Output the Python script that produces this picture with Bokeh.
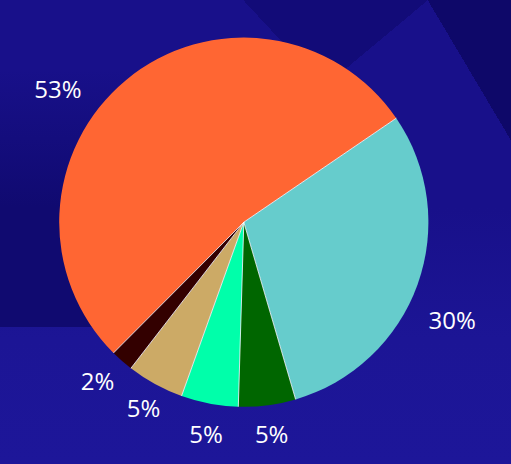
import numpy as np
from bokeh.plotting import figure
from bokeh.models import Range1d, ColumnDataSource
from bokeh.core.properties import value
from bokeh.embed import file_html
from bokeh.resources import INLINE

# ---- data ----
labels = ["53%", "30%", "5%", "5%", "5%", "2%"]
shares = [53, 30, 5, 5, 5, 2]
colors = ["#FF6633", "#66CCCC", "#006600", "#00FFAA", "#CCAA66", "#330000"]

# ---- layout ----
W, H = 511, 464
cx, cy = 243.3, H - 221.7
R = 184.6
start_deg = 225.1
label_nudge_deg = [14.6, -5.3, 0.2, 0.6, 0.3, -1.4]
label_radius = [229, 230, 213.6, 215, 211, 215.6]

frac = np.array(shares, dtype=float) / float(sum(shares))
cum = np.concatenate([[0.0], np.cumsum(frac)])
starts = start_deg - cum[:-1] * 360.0
ends = start_deg - cum[1:] * 360.0
mids = (starts + ends) / 2.0

src = ColumnDataSource(dict(
    start=np.radians(starts), end=np.radians(ends), color=colors,
))

bg = ", ".join([
    "linear-gradient(59.3deg, transparent 89.4%, #0e0869 89.4%)",
    "conic-gradient(from 317.1deg at 324px 87px, #120b78 0deg 93deg, transparent 93deg)",
    "linear-gradient(to bottom, rgba(16,10,112,0) 68px, #100a70 208px, #100a70 327px, transparent 327px) 0 0 / 210px 464px no-repeat",
    "linear-gradient(to bottom, #18108a 0px, #18108a 208px, #1c1595 338px, #1d1699 464px)",
])

p = figure(width=W, height=H, x_range=Range1d(0, W), y_range=Range1d(0, H),
           output_backend="svg", toolbar_location=None, min_border=0,
           styles={"background": bg})
p.axis.visible = False
p.grid.visible = False
p.outline_line_color = None
p.background_fill_alpha = 0
p.border_fill_alpha = 0

p.wedge(x=cx, y=cy, radius=R, start_angle="start", end_angle="end",
        direction="clock", fill_color="color", line_color=None, source=src)

b = np.radians(starts)
p.segment(x0=[cx] * len(b), y0=[cy] * len(b), x1=cx + R * np.cos(b), y1=cy + R * np.sin(b),
          line_color="#ffffff", line_alpha=0.8, line_width=1)

la = np.radians(mids + np.array(label_nudge_deg))
lr = np.array(label_radius)
p.text(x=cx + lr * np.cos(la), y=cy + lr * np.sin(la), text=labels,
       text_color="#ffffff", text_font=value("Open Sans"), text_font_size="24px",
       text_align="center", text_baseline="middle")

open("out.html", "w").write(file_html(p, INLINE))
